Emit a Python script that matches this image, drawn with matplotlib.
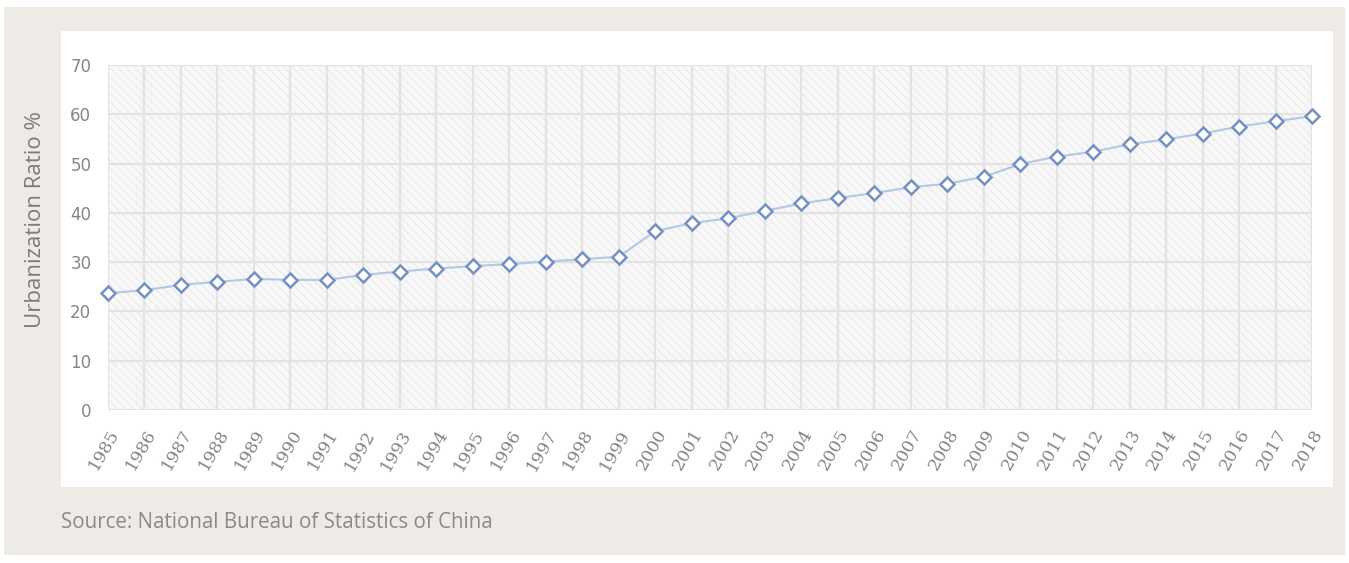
import numpy as np
import matplotlib
matplotlib.use('Agg')
import matplotlib.pyplot as plt
from matplotlib.patches import Rectangle

years = list(range(1985, 2019))
ratio = [23.7, 24.3, 25.4, 26.0, 26.6, 26.4, 26.4, 27.4, 28.1, 28.7,
         29.2, 29.6, 30.1, 30.6, 31.1, 36.3, 37.9, 38.9, 40.4, 41.9,
         43.0, 44.0, 45.2, 45.9, 47.3, 49.9, 51.4, 52.4, 53.9, 54.9,
         56.1, 57.5, 58.6, 59.6]
yticks = [0, 10, 20, 30, 40, 50, 60, 70]

plt.rcParams['hatch.linewidth'] = 0.6

W, H = 1349, 563
fig = plt.figure(figsize=(W / 100, H / 100), dpi=100)
fig.patch.set_facecolor('white')

# beige card and white chart panel
fig.add_artist(Rectangle((4 / W, 1 - 555 / H), 1341 / W, 548 / H,
                         transform=fig.transFigure, facecolor='#eeebe6',
                         edgecolor='none', zorder=0))
fig.add_artist(Rectangle((61 / W, 1 - 487 / H), 1272 / W, 456 / H,
                         transform=fig.transFigure, facecolor='white',
                         edgecolor='none', zorder=0))

ax = fig.add_axes([108 / W, 1 - 410 / H, (1312 - 108) / W, (410 - 65) / H])
ax.set_facecolor('none')
ax.add_patch(Rectangle((0, 0), 1, 1, transform=ax.transAxes,
                       facecolor='#f8f8f8', edgecolor='#e6e6e6',
                       hatch='\\\\\\\\', linewidth=0, zorder=0))

ax.plot(years, ratio, color='#b4c7e7', linewidth=1.5, zorder=3,
        marker='D', markersize=7.5, markerfacecolor='white',
        markeredgecolor='#7391c2', markeredgewidth=1.8, clip_on=False)

ax.set_xlim(years[0], years[-1])
ax.set_ylim(0, 70)
ax.set_xticks(years)
ax.set_xticklabels([str(y) for y in years], rotation=60, ha='right',
                   rotation_mode='anchor', fontsize=12.5, color='#858585',
                   family='DejaVu Serif')
ax.set_yticks(yticks)
ax.set_yticklabels([str(v) for v in yticks], fontsize=12, color='#858585',
                   family='DejaVu Sans')
ax.tick_params(length=0, pad=12)
ax.tick_params(axis='x', pad=12)
ax.grid(True, color='#e3e3e3', linewidth=1.6, zorder=1)
ax.set_axisbelow(True)
for s in ax.spines.values():
    s.set_visible(False)

fig.text(36 / W, 1 - 220 / H, 'Urbanization Ratio %', rotation=90,
         ha='center', va='center', fontsize=16, color='#7c7c7c',
         family='Open Sans')
fig.text(61 / W, 1 - 523 / H, 'Source: National Bureau of Statistics of China',
         ha='left', va='center', fontsize=14.8, color='#8a8a8a',
         family='Open Sans')

fig.savefig('out.png', dpi=100)
